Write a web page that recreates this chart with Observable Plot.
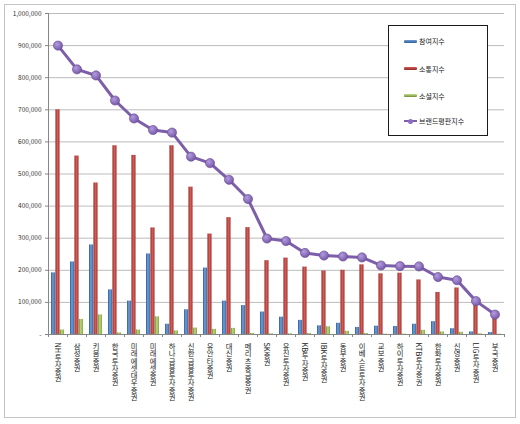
<!DOCTYPE html>
<html><head><meta charset="utf-8">
<script src="https://cdn.jsdelivr.net/npm/d3@7"></script>
<script src="https://cdn.jsdelivr.net/npm/@observablehq/plot@0.6"></script>
<style>
body{margin:0;background:#fff;}
#wrap{position:relative;width:520px;height:424px;overflow:hidden;}
#frame{position:absolute;left:4px;top:4px;width:510px;height:412px;border:1px solid #c4c4c4;pointer-events:none;}
#legend{position:absolute;left:388px;top:25px;width:98px;height:109px;border:1px solid #1a1a1a;background:#fff;font-family:"Noto Sans CJK KR";font-size:7px;color:#222;}
.item{position:absolute;left:15px;height:10px;display:flex;align-items:center;white-space:nowrap;}
.sw{width:13px;height:3px;margin-right:2px;border-radius:1px;}
.lsw{position:relative;width:13px;height:10px;margin-right:2px;}
.lsw .ln{position:absolute;left:0;top:4px;width:13px;height:2px;background:#7d5ea8;}
.lsw .pt{position:absolute;left:4px;top:2.5px;width:5px;height:5px;border-radius:50%;background:#8a6cc0;}
</style></head>
<body>
<div id="wrap">
  <div id="chart"></div>
  <div id="frame"></div>
  <div id="legend"></div>
</div>
<script>
const categories = ["NH투자증권","삼성증권","키움증권","한국투자증권","미래에셋대우증권","미래에셋증권","하나금융투자증권","신한금융투자증권","유안타증권","대신증권","메리츠종금증권","SK증권","유진투자증권","KB투자증권","IBK투자증권","동부증권","이베스트투자증권","교보증권","하이투자증권","KTB투자증권","한화투자증권","신영증권","LIG투자증권","부국증권"];
const participation = [192,226,279,139,104,251,32,77,207,104,90,70,54,44,27,35,22,26,25,32,40,18,8,6];
const communication = [700,556,472,588,558,332,588,459,313,364,333,230,238,210,198,200,217,189,191,170,131,145,93,55];
const social = [14,47,61,5,14,55,11,20,16,19,3,2,2,3,24,10,3,1,1,13,8,7,2,1];
const brand = [900,826,807,729,673,637,629,554,534,482,422,299,291,254,246,243,240,215,213,212,179,169,104,62];
const seriesNames = ["참여지수","소통지수","소셜지수","브랜드평판지수"];
const yTicks = [0,100000,200000,300000,400000,500000,600000,700000,800000,900000,1000000];

const rows = categories.map((c,i)=>({c, p:participation[i]*1000, s:communication[i]*1000, g:social[i]*1000, b:brand[i]*1000}));

const W=520,H=424,ML=48,MR=16,MT=13,MB=90;
const PI=0.3, PO=0.15;
const n=categories.length;
const step=(W-ML-MR)/(n-PI+2*PO);
const bw=step*(1-PI);
const third=bw/3;
const font='"Noto Sans CJK KR","Noto Sans",sans-serif';

const chart = Plot.plot({
  width:W, height:H, marginLeft:ML, marginRight:MR, marginTop:MT, marginBottom:MB,
  style:{fontFamily:font, fontSize:"6.5px", color:"#333", background:"transparent"},
  x:{domain:categories, paddingInner:PI, paddingOuter:PO, label:null, axis:null},
  y:{domain:[0,1000000], label:null, axis:null},
  marks:[
    Plot.gridY(yTicks,{stroke:"#bcbcbc", strokeOpacity:1}),
    Plot.axisY(yTicks,{tickSize:3, tickPadding:4, stroke:"#868686", label:null,
      tickFormat:d=> d===0 ? "-" : d3.format(",")(d)}),
    Plot.frame({anchor:"left", stroke:"#868686"}),
    Plot.barY(rows,{x:"c", y:"p", fill:"url(#gBlue)", insetRight:2*third}),
    Plot.barY(rows,{x:"c", y:"s", fill:"url(#gRed)", insetLeft:third, insetRight:third}),
    Plot.barY(rows,{x:"c", y:"g", fill:"url(#gGreen)", insetLeft:2*third}),
    Plot.ruleY([0],{stroke:"#868686"}),
    Plot.axisX(categories,{tickSize:3, dx:-step/2, stroke:"#868686", tickFormat:()=>"", label:null}),
    Plot.axisX([categories[n-1]],{tickSize:3, dx:step/2, stroke:"#868686", tickFormat:()=>"", label:null}),
    Plot.axisX(categories,{tickSize:0, tickPadding:8, fontSize:7.3, fill:"#222", label:null}),
    Plot.line(rows,{x:"c", y:"b", stroke:"#7d5ea8", strokeWidth:3}),
    Plot.dot(rows,{x:"c", y:"b", r:4.6, fill:"url(#gDot)", stroke:"#6a4d94", strokeWidth:0.6})
  ]
});

// gradient defs
const defs = `
<linearGradient id="gBlue" x1="0" x2="1" y1="0" y2="0"><stop offset="0" stop-color="#2f5d96"/><stop offset="0.45" stop-color="#6f9fd8"/><stop offset="1" stop-color="#3a6aa8"/></linearGradient>
<linearGradient id="gRed" x1="0" x2="1" y1="0" y2="0"><stop offset="0" stop-color="#8f2a27"/><stop offset="0.45" stop-color="#d75c58"/><stop offset="1" stop-color="#a33532"/></linearGradient>
<linearGradient id="gGreen" x1="0" x2="1" y1="0" y2="0"><stop offset="0" stop-color="#6f8b38"/><stop offset="0.45" stop-color="#bcd87c"/><stop offset="1" stop-color="#86a549"/></linearGradient>
<radialGradient id="gDot" cx="0.38" cy="0.35" r="0.7"><stop offset="0" stop-color="#b39be0"/><stop offset="1" stop-color="#7254a3"/></radialGradient>`;
const d = document.createElementNS("http://www.w3.org/2000/svg","defs");
d.innerHTML = defs;
chart.insertBefore(d, chart.firstChild);

// vertical Korean labels (one text per label, CJK upright, Latin turned)
const catSet = new Set(categories);
const NS="http://www.w3.org/2000/svg";
const fs=7.3;
chart.querySelectorAll("text").forEach(t=>{
  const label=t.textContent;
  if(!catSet.has(label)) return;
  const e=document.createElementNS(NS,"text");
  e.setAttribute("transform",t.getAttribute("transform")||"");
  e.setAttribute("font-size",fs);
  e.setAttribute("fill","#222");
  e.setAttribute("text-anchor","start");
  e.setAttribute("font-family",font);
  e.setAttribute("writing-mode","tb");
  e.style.writingMode="vertical-rl";
  e.style.textOrientation="mixed";
  e.textContent=label;
  t.parentNode.appendChild(e);
  t.remove();
});

document.getElementById("chart").appendChild(chart);

// legend
const lg=document.getElementById("legend");
const sws=["linear-gradient(to bottom,#6f9fd8,#2f5d96)","linear-gradient(to bottom,#d75c58,#8f2a27)","linear-gradient(to bottom,#c6e08a,#6f8b38)"];
const tops=[10,37.5,64.5,90];
seriesNames.forEach((name,i)=>{
  const it=document.createElement("div");
  it.className="item"; it.style.top=tops[i]+"px";
  if(i<3){ it.innerHTML=`<div class="sw" style="background:${sws[i]}"></div><span>${name}</span>`; }
  else { it.innerHTML=`<div class="lsw"><div class="ln"></div><div class="pt"></div></div><span>${name}</span>`; }
  lg.appendChild(it);
});
</script>
</body></html>
